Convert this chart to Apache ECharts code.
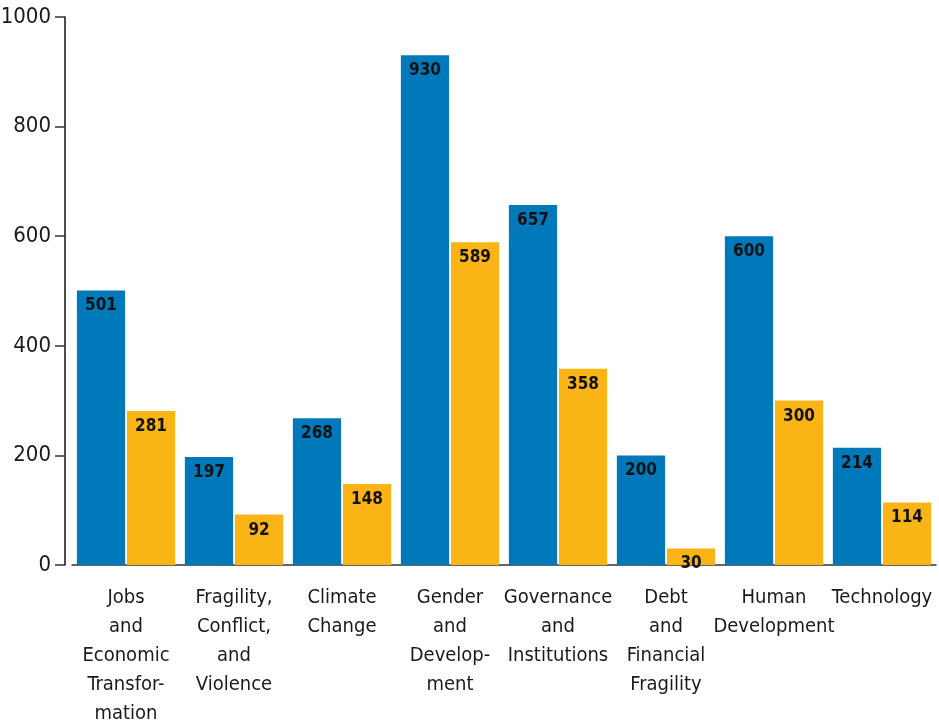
<!DOCTYPE html>
<html>
<head>
<meta charset="utf-8">
<script src="https://cdn.jsdelivr.net/npm/echarts@6/dist/echarts.min.js"></script>
<style>
  html, body { margin: 0; padding: 0; background: #fff; }
  #main { width: 939px; height: 728px; }
</style>
</head>
<body>
<div id="main"></div>
<script>
var categories = ['Jobs\nand\nEconomic\nTransfor-\nmation', 'Fragility,\nConflict,\nand\nViolence', 'Climate\nChange',
  'Gender\nand\nDevelop-\nment', 'Governance\nand\nInstitutions', 'Debt\nand\nFinancial\nFragility',
  'Human\nDevelopment', 'Technology'];
var blueValues = [501, 197, 268, 930, 657, 200, 600, 214];
var yellowValues = [281, 92, 148, 589, 358, 30, 300, 114];
var yTicks = [0, 200, 400, 600, 800, 1000];

var font = '"DejaVu Sans Condensed", "Liberation Sans Narrow", sans-serif';

window.onload = function () {
  var myChart = echarts.init(document.getElementById('main'));
  var barLabel = {
    show: true,
    position: 'insideTop',
    distance: 7,
    fontFamily: font,
    fontWeight: 'bold',
    fontSize: 17,
    color: '#111'
  };
  var option = {
    animation: false,
    grid: { left: 72, right: 3, top: 17, bottom: 163, outerBoundsMode: 'none', containLabel: false },
    xAxis: {
      type: 'category',
      data: categories,
      axisLine: { lineStyle: { color: '#333', width: 1.5 } },
      axisTick: { show: false },
      axisLabel: {
        margin: 18,
        fontFamily: font,
        fontSize: 20,
        lineHeight: 29,
        color: '#1a1a1a',
        interval: 0
      }
    },
    yAxis: {
      type: 'value',
      min: yTicks[0],
      max: yTicks[yTicks.length - 1],
      interval: 200,
      offset: 7,
      splitLine: { show: false },
      axisLine: { show: true, lineStyle: { color: '#111', width: 1.5 } },
      axisTick: { show: true, length: 10, lineStyle: { color: '#333', width: 1.5 } },
      axisLabel: {
        margin: 14,
        fontFamily: font,
        fontSize: 22,
        color: '#1a1a1a',
        formatter: function (v) { return String(v); }
      }
    },
    series: [
      {
        name: 'blue',
        type: 'bar',
        data: blueValues,
        barGap: '4%',
        barCategoryGap: '9%',
        itemStyle: { color: '#0079bb' },
        label: barLabel
      },
      {
        name: 'yellow',
        type: 'bar',
        data: yellowValues,
        itemStyle: { color: '#fbb416' },
        label: barLabel
      }
    ]
  };
  myChart.setOption(option);
};
</script>
</body>
</html>
